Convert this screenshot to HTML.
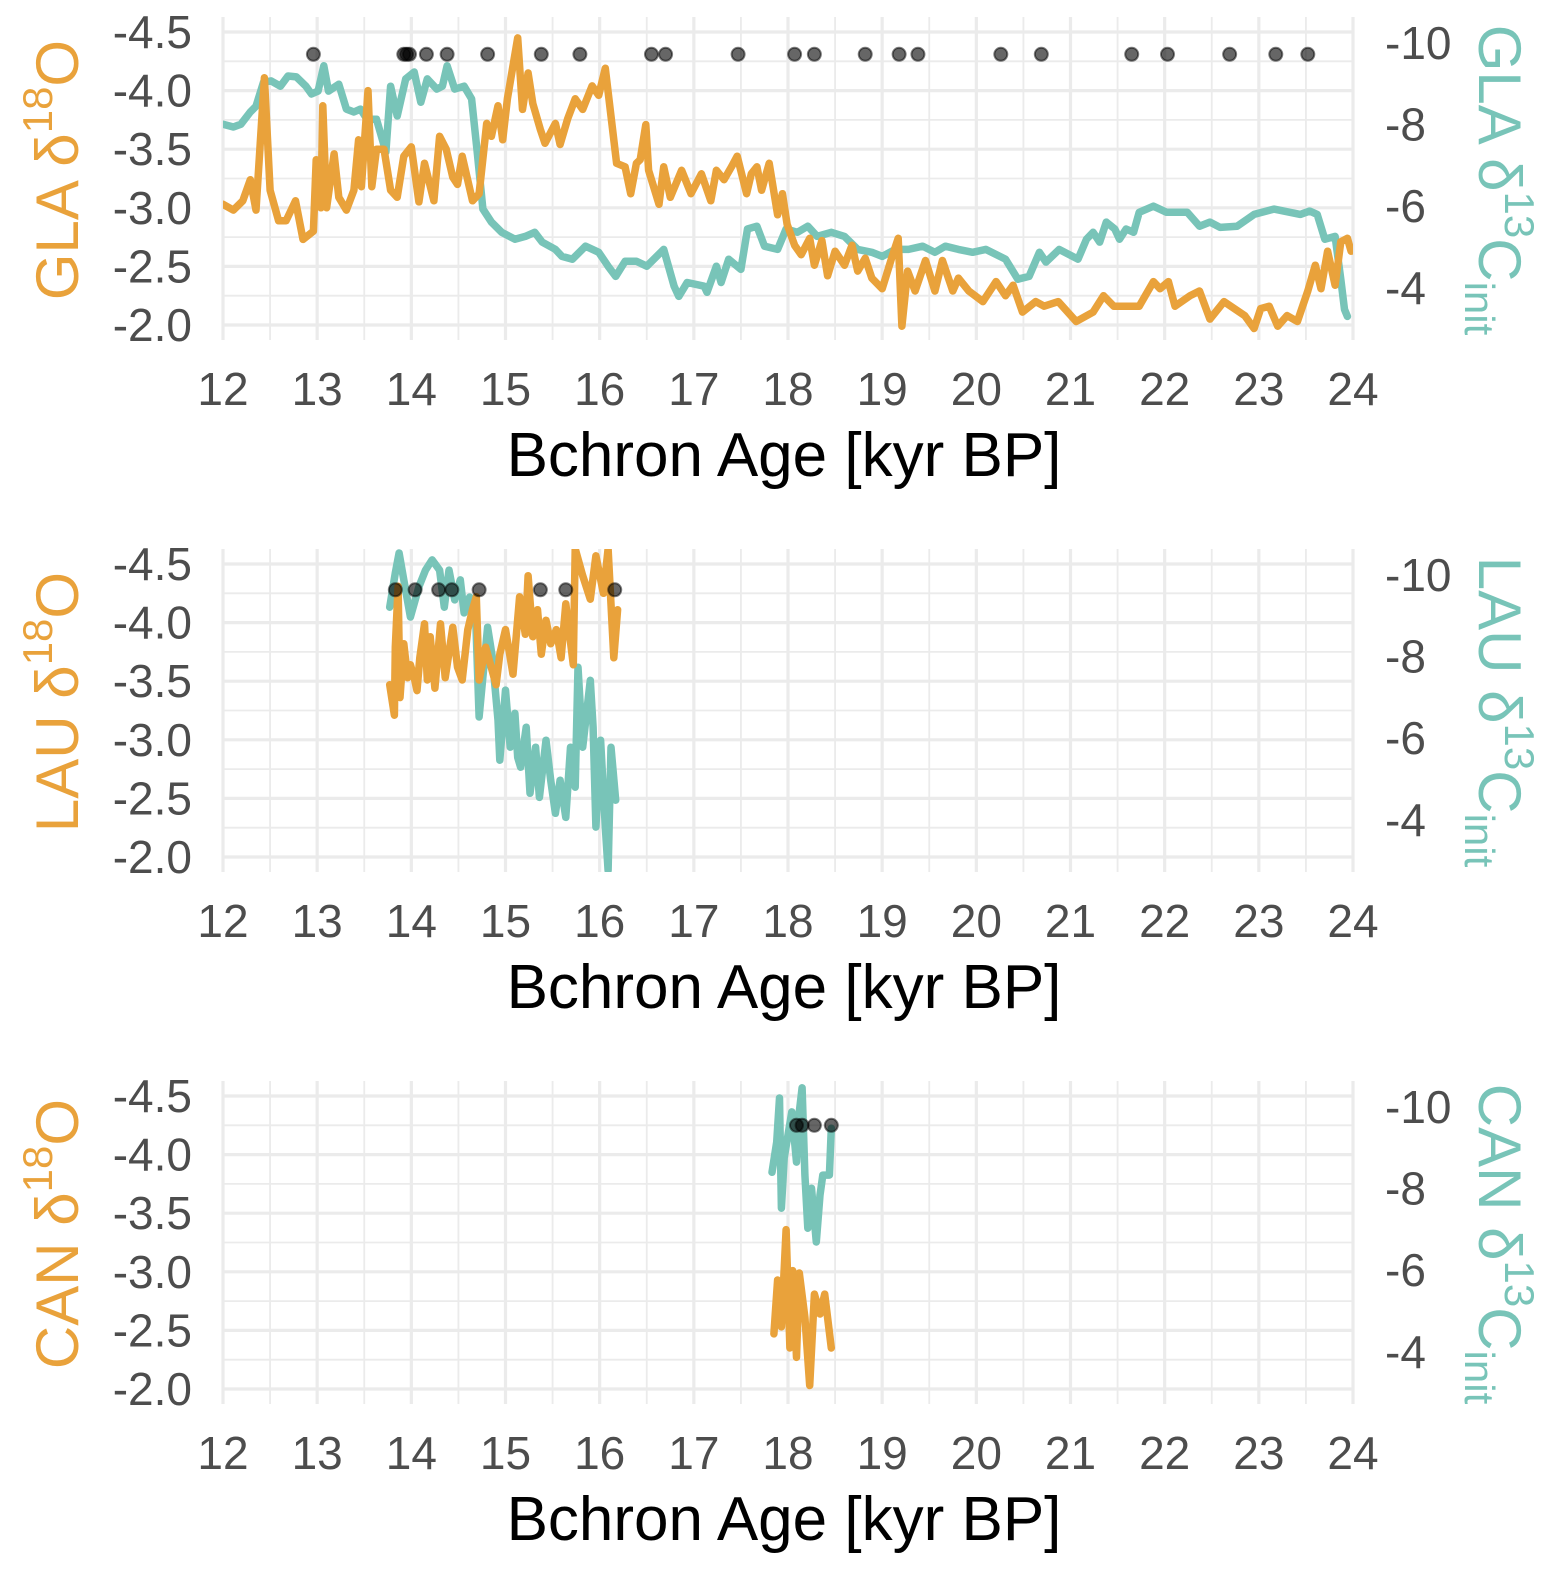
<!DOCTYPE html>
<html><head><meta charset="utf-8"><style>
html,body{margin:0;padding:0;background:#fff}
svg{display:block;font-family:"Liberation Sans",Arial,sans-serif}
</style></head><body>
<svg id="chart" width="1561" height="1577" viewBox="0 0 1561 1577" xmlns="http://www.w3.org/2000/svg"></svg>
<script>
const xTicks=[12,13,14,15,16,17,18,19,20,21,22,23,24];
const yLeftTicks=[-4.5,-4.0,-3.5,-3.0,-2.5,-2.0];
const yLeftLabels=["-4.5","-4.0","-3.5","-3.0","-2.5","-2.0"];
const yRightTicks=[-10,-8,-6,-4];
const panelNames=["GLA","LAU","CAN"];

const p1AgeO=[12.00,12.11,12.21,12.29,12.35,12.44,12.50,12.59,12.67,12.77,12.85,12.96,12.99,13.04,13.06,13.10,13.18,13.23,13.31,13.39,13.44,13.47,13.54,13.58,13.63,13.71,13.78,13.85,13.92,14.00,14.08,14.14,14.24,14.30,14.37,14.44,14.49,14.54,14.65,14.72,14.80,14.85,14.92,14.97,15.02,15.13,15.18,15.24,15.29,15.37,15.42,15.53,15.58,15.66,15.74,15.82,15.92,15.99,16.06,16.18,16.27,16.33,16.39,16.43,16.49,16.52,16.63,16.68,16.75,16.87,16.97,17.08,17.18,17.24,17.32,17.40,17.46,17.56,17.61,17.67,17.72,17.80,17.89,17.94,17.99,18.07,18.14,18.23,18.28,18.36,18.42,18.50,18.60,18.68,18.74,18.82,18.89,19.00,19.10,19.17,19.21,19.27,19.35,19.46,19.56,19.64,19.75,19.81,19.92,20.07,20.21,20.31,20.39,20.49,20.63,20.72,20.87,21.06,21.24,21.35,21.46,21.59,21.73,21.88,21.95,22.04,22.11,22.27,22.37,22.48,22.63,22.85,22.95,23.02,23.11,23.20,23.30,23.41,23.52,23.60,23.66,23.73,23.81,23.87,23.94,23.98];
const p1ValO=[-3.03,-2.98,-3.06,-3.24,-2.98,-4.11,-3.15,-2.89,-2.89,-3.06,-2.73,-2.80,-3.41,-3.00,-3.87,-3.00,-3.46,-3.09,-2.98,-3.15,-3.58,-3.18,-4.00,-3.18,-3.50,-3.50,-3.15,-3.09,-3.44,-3.52,-3.05,-3.38,-3.06,-3.61,-3.50,-3.26,-3.20,-3.44,-3.06,-3.12,-3.72,-3.61,-3.87,-3.58,-3.93,-4.45,-3.84,-4.15,-3.89,-3.67,-3.55,-3.72,-3.54,-3.76,-3.93,-3.84,-4.04,-3.96,-4.19,-3.38,-3.35,-3.12,-3.38,-3.41,-3.71,-3.32,-3.03,-3.35,-3.09,-3.32,-3.12,-3.29,-3.06,-3.32,-3.24,-3.35,-3.44,-3.12,-3.29,-3.35,-3.15,-3.38,-2.94,-3.12,-2.86,-2.68,-2.60,-2.74,-2.51,-2.72,-2.42,-2.63,-2.51,-2.68,-2.46,-2.57,-2.40,-2.31,-2.57,-2.74,-1.99,-2.46,-2.29,-2.55,-2.29,-2.55,-2.29,-2.40,-2.29,-2.20,-2.37,-2.25,-2.34,-2.11,-2.20,-2.16,-2.20,-2.03,-2.11,-2.25,-2.16,-2.16,-2.16,-2.37,-2.31,-2.37,-2.16,-2.25,-2.29,-2.05,-2.20,-2.08,-1.97,-2.14,-2.16,-1.99,-2.08,-2.03,-2.29,-2.51,-2.31,-2.63,-2.34,-2.71,-2.74,-2.63,-2.46];
const p1AgeT=[12.00,12.11,12.19,12.29,12.35,12.43,12.51,12.61,12.69,12.78,12.88,12.94,13.01,13.07,13.12,13.23,13.31,13.39,13.46,13.53,13.63,13.73,13.78,13.85,13.94,14.03,14.10,14.17,14.27,14.33,14.38,14.46,14.56,14.64,14.70,14.76,14.85,14.96,15.10,15.21,15.31,15.39,15.53,15.60,15.71,15.85,15.99,16.09,16.17,16.27,16.39,16.50,16.68,16.79,16.84,16.93,17.11,17.14,17.24,17.29,17.37,17.50,17.57,17.67,17.75,17.89,17.98,18.10,18.21,18.31,18.46,18.60,18.74,18.89,19.00,19.14,19.28,19.43,19.56,19.67,19.81,19.96,20.10,20.31,20.44,20.56,20.67,20.74,20.88,21.08,21.17,21.24,21.31,21.38,21.47,21.52,21.59,21.67,21.73,21.88,22.02,22.24,22.37,22.48,22.59,22.77,22.95,23.16,23.44,23.54,23.62,23.70,23.81,23.87,23.91,23.94];
const p1ValT=[-8.01,-7.94,-8.01,-8.31,-8.45,-9.04,-9.07,-8.94,-9.19,-9.17,-8.94,-8.75,-8.82,-9.44,-8.82,-8.99,-8.38,-8.31,-8.38,-8.13,-8.13,-7.33,-8.94,-8.21,-9.12,-9.29,-8.55,-9.12,-8.87,-8.94,-9.44,-8.87,-8.94,-8.63,-7.33,-5.93,-5.61,-5.36,-5.19,-5.26,-5.36,-5.12,-4.94,-4.77,-4.70,-5.02,-4.87,-4.53,-4.28,-4.65,-4.65,-4.53,-4.94,-4.04,-3.79,-4.13,-4.04,-3.89,-4.53,-4.13,-4.70,-4.45,-5.44,-5.51,-5.02,-4.94,-5.44,-5.36,-5.51,-5.26,-5.36,-5.26,-4.94,-4.87,-4.77,-4.94,-4.94,-5.02,-4.87,-5.02,-4.94,-4.87,-4.94,-4.70,-4.21,-4.28,-4.87,-4.63,-4.94,-4.70,-5.19,-5.36,-5.12,-5.61,-5.44,-5.19,-5.44,-5.36,-5.85,-6.00,-5.85,-5.85,-5.51,-5.61,-5.48,-5.51,-5.80,-5.93,-5.80,-5.88,-5.80,-5.19,-5.26,-4.21,-3.47,-3.30];
const p1Dates=[12.96,13.92,13.95,13.98,14.16,14.38,14.81,15.38,15.79,16.55,16.70,17.47,18.07,18.28,18.82,19.18,19.38,20.26,20.69,21.65,22.03,22.69,23.18,23.52];

const p2AgeO=[13.77,13.82,13.83,13.86,13.88,13.92,13.96,13.99,14.03,14.06,14.09,14.14,14.17,14.20,14.25,14.31,14.36,14.44,14.49,14.54,14.60,14.65,14.69,14.72,14.79,14.90,14.94,15.00,15.08,15.15,15.21,15.24,15.29,15.34,15.38,15.43,15.48,15.54,15.59,15.64,15.72,15.74,15.82,15.90,15.96,16.04,16.09,16.15,16.19];
const p2ValO=[-3.47,-3.21,-3.79,-4.31,-3.36,-3.82,-3.53,-3.64,-3.53,-3.42,-3.70,-3.99,-3.51,-3.88,-3.44,-3.99,-3.53,-3.96,-3.62,-3.51,-3.94,-4.11,-4.22,-3.51,-3.79,-3.47,-3.73,-3.94,-3.56,-4.22,-3.90,-4.40,-3.88,-4.11,-3.73,-4.02,-3.82,-3.94,-3.70,-4.16,-3.64,-4.63,-4.40,-4.20,-4.57,-4.25,-4.63,-3.70,-4.11];
const p2AgeT=[13.77,13.83,13.87,13.92,13.99,14.08,14.15,14.22,14.30,14.35,14.40,14.46,14.52,14.56,14.62,14.68,14.72,14.81,14.86,14.92,14.94,15.00,15.05,15.10,15.13,15.16,15.22,15.26,15.32,15.36,15.43,15.48,15.53,15.58,15.64,15.69,15.74,15.77,15.82,15.90,15.93,15.96,16.01,16.06,16.09,16.12,16.17];
const p2ValT=[-9.21,-10.05,-10.54,-9.88,-8.97,-9.71,-10.12,-10.37,-10.12,-9.21,-10.12,-9.39,-9.88,-9.07,-9.46,-9.14,-6.52,-8.72,-7.99,-6.44,-5.46,-7.18,-5.78,-6.61,-5.53,-5.29,-6.27,-4.65,-5.78,-4.55,-5.95,-4.97,-4.16,-4.97,-4.06,-5.78,-4.80,-7.74,-5.78,-7.42,-6.27,-3.82,-5.95,-3.82,-2.76,-5.78,-4.48];
const p2Dates=[13.83,14.04,14.29,14.43,14.72,15.37,15.64,16.16];

const p3AgeO=[17.85,17.89,17.93,17.98,18.02,18.05,18.09,18.12,18.18,18.23,18.28,18.34,18.39,18.46];
const p3ValO=[-2.47,-2.93,-2.53,-3.36,-2.35,-3.01,-2.27,-2.99,-2.61,-2.03,-2.81,-2.64,-2.81,-2.35];
const p3AgeT=[17.83,17.88,17.91,17.93,17.96,18.04,18.09,18.12,18.15,18.18,18.21,18.25,18.30,18.34,18.37,18.44,18.46];
const p3ValT=[-8.40,-9.14,-10.22,-7.52,-8.75,-9.88,-8.65,-9.88,-10.47,-8.33,-7.03,-8.01,-6.69,-7.84,-8.33,-8.33,-9.48];
const p3Dates=[18.09,18.15,18.28,18.46];

const dateLevel=[-4.31,-4.28,-4.25];
const panels=[
 {ageO:p1AgeO,valO:p1ValO,ageT:p1AgeT,valT:p1ValT,dates:p1Dates},
 {ageO:p2AgeO,valO:p2ValO,ageT:p2AgeT,valT:p2ValT,dates:p2Dates},
 {ageO:p3AgeO,valO:p3ValO,ageT:p3AgeT,valT:p3ValT,dates:p3Dates}
];

const NS="http://www.w3.org/2000/svg";
const svg=document.getElementById('chart');
const ORANGE="#E9A23B", TEAL="#78C4B8";
function mk(tag,attrs,parent){const e=document.createElementNS(NS,tag);for(const k in attrs)e.setAttribute(k,attrs[k]);(parent||svg).appendChild(e);return e;}
const X0=223, X1=1353, PANEL_H=532;
function xs(a){return X0+(a-12)*(X1-X0)/12;}
function yl(v,p){return p*PANEL_H+32+(v+4.5)*117.2;}
function yr(v,p){return p*PANEL_H+43+(v+10)*40.8;}

const defs=mk('defs',{});
panels.forEach((pd,p)=>{
  const off=p*PANEL_H;
  const g=mk('g',{});
  
  
  const cp=mk('clipPath',{id:'clip'+p},defs);
  mk('rect',{x:X0,y:off+17,width:X1-X0,height:323},cp);
  const grid=mk('g',{},g);
  
  
  for(let a=12;a<=24;a+=0.5){
    const major=Math.abs(a-Math.round(a))<1e-6;
    mk('line',{x1:xs(a),x2:xs(a),y1:off+17,y2:off+340,stroke:'#ebebeb','stroke-width':major?3.2:1.8},grid);
  }
  for(let v=-4.5;v<=-2.0+1e-6;v+=0.25){
    const major=Math.abs(v*2-Math.round(v*2))<1e-6;
    mk('line',{x1:X0,x2:X1,y1:yl(v,p),y2:yl(v,p),stroke:'#ebebeb','stroke-width':major?3.2:1.8},grid);
  }
  yLeftTicks.forEach((v,i)=>{
    const t=mk('text',{x:192,y:yl(v,p)+16,'text-anchor':'end','font-size':46,fill:'#4d4d4d'},g);
    
    
    t.textContent=yLeftLabels[i];
  });
  yRightTicks.forEach(v=>{
    const t=mk('text',{x:1385,y:yr(v,p)+16,'text-anchor':'start','font-size':46,fill:'#4d4d4d'},g);
    
    
    t.textContent=String(v);
  });
  xTicks.forEach(a=>{
    const t=mk('text',{x:xs(a),y:off+405,'text-anchor':'middle','font-size':46,fill:'#4d4d4d'},g);
    
    
    t.textContent=String(a);
  });
  const xt=mk('text',{x:784,y:off+476,'text-anchor':'middle','font-size':62,fill:'#000'},g);
  
  
  xt.textContent='Bchron Age [kyr BP]';
  const lt=mk('text',{transform:`translate(78,${off+170}) rotate(-90)`,'text-anchor':'middle','font-size':60,fill:ORANGE},g);
  
  
  lt.innerHTML=panelNames[p]+' δ<tspan font-size="42" dy="-26">18</tspan><tspan dy="26">O</tspan>';
  const rt=mk('text',{transform:`translate(1479,${off+180}) rotate(90)`,'text-anchor':'middle','font-size':60,fill:TEAL},g);
  
  
  rt.innerHTML=panelNames[p]+' δ<tspan font-size="42" dy="-26">13</tspan><tspan dy="26">C</tspan><tspan font-size="42" dy="14">init</tspan>';
  const sg=mk('g',{'clip-path':`url(#clip${p})`},g);
  const tp=pd.ageT.map((a,i)=>xs(a).toFixed(1)+','+yr(pd.valT[i],p).toFixed(1)).join(' ');
  const tl=mk('polyline',{points:tp,fill:'none',stroke:TEAL,'stroke-width':7.5,'stroke-linejoin':'round','stroke-linecap':'round'},sg);
  
  
  const op=pd.ageO.map((a,i)=>xs(a).toFixed(1)+','+yl(pd.valO[i],p).toFixed(1)).join(' ');
  const ol=mk('polyline',{points:op,fill:'none',stroke:ORANGE,'stroke-width':7.5,'stroke-linejoin':'round','stroke-linecap':'round'},sg);
  
  
  pd.dates.forEach(a=>{
    const c=mk('circle',{cx:xs(a),cy:yl(dateLevel[p],p),r:6.5,fill:'#000','fill-opacity':0.6,stroke:'#000','stroke-opacity':0.5,'stroke-width':2},g);
    
    
  });
});
</script>
</body></html>
